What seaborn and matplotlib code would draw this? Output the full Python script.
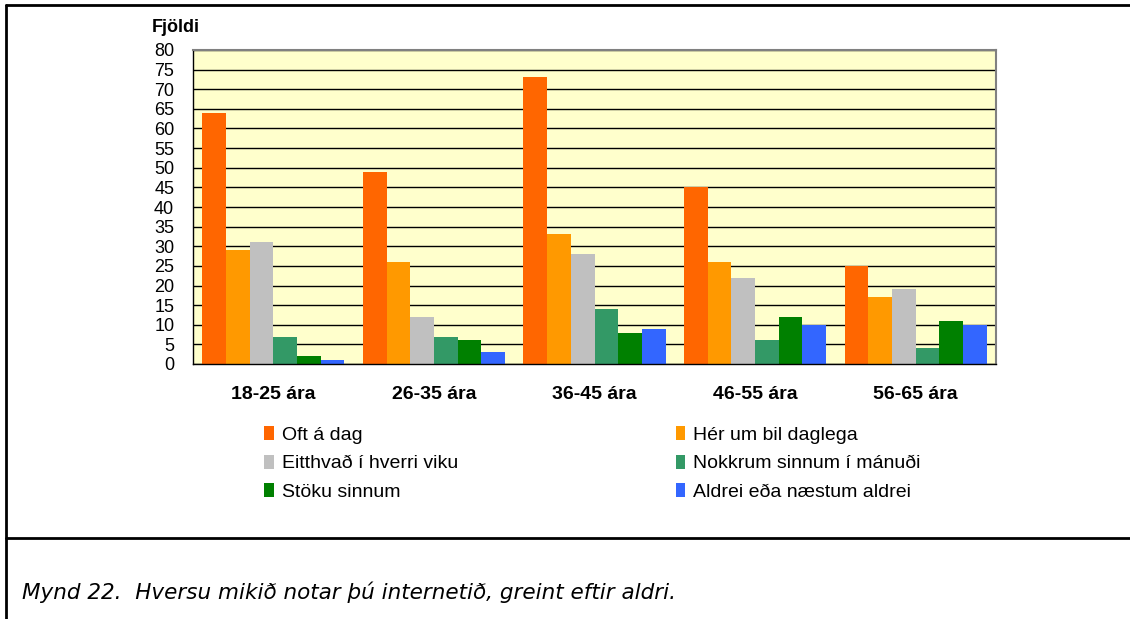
import matplotlib
matplotlib.use("Agg")
import matplotlib.pyplot as plt
import seaborn as sns
import pandas as pd
import numpy as np
from matplotlib.lines import Line2D
from matplotlib.patches import Patch

categories = ["18-25 ára", "26-35 ára", "36-45 ára", "46-55 ára", "56-65 ára"]
series_names = ["Oft á dag", "Hér um bil daglega", "Eitthvað í hverri viku",
                "Nokkrum sinnum í mánuði", "Stöku sinnum", "Aldrei eða næstum aldrei"]
oft_a_dag = [64, 49, 73, 45, 25]
her_um_bil = [29, 26, 33, 26, 17]
eitthvad = [31, 12, 28, 22, 19]
nokkrum = [7, 7, 14, 6, 4]
stoku = [2, 6, 8, 12, 11]
aldrei = [1, 3, 9, 10, 10]
colors = ["#FF6600", "#FF9900", "#C0C0C0", "#339966", "#008000", "#3366FF"]
y_ticks = list(range(0, 81, 5))

values = [oft_a_dag, her_um_bil, eitthvad, nokkrum, stoku, aldrei]
rows = []
for s, vals in zip(series_names, values):
    for c, v in zip(categories, vals):
        rows.append({"Aldur": c, "Svar": s, "Fjöldi": v})
df = pd.DataFrame(rows)

sns.set_style("white")
plt.rcParams["font.family"] = ["Liberation Sans", "DejaVu Sans"]
plt.rcParams["text.color"] = "black"
plt.rcParams["xtick.color"] = "black"
plt.rcParams["ytick.color"] = "black"
plt.rcParams["axes.labelcolor"] = "black"

fig = plt.figure(figsize=(11.30, 6.19), dpi=100)
ax = fig.add_axes([193/1130, 1-364/619, (996-193)/1130, (364-50)/619])
ax.set_facecolor("#FFFFCC")

sns.barplot(data=df, x="Aldur", y="Fjöldi", hue="Svar", order=categories,
            hue_order=series_names, palette=colors, width=0.885, gap=0,
            saturation=1, linewidth=0, ax=ax, legend=False)

ax.set_ylim(0, 80)
ax.set_xlim(-0.5, len(categories) - 0.5)
ax.set_yticks(y_ticks)
ax.set_yticklabels([str(t) for t in y_ticks], fontsize=13)
ax.yaxis.grid(True, color="black", linewidth=1)
ax.set_axisbelow(True)
ax.set_xlabel("")
ax.set_ylabel("")
ax.set_xticks(range(len(categories)))
ax.set_xticklabels(categories, fontsize=14, fontweight="bold")
ax.tick_params(axis="x", which="major", length=0, pad=16)
ax.set_xticks(np.arange(-0.5, len(categories), 1), minor=True)
ax.tick_params(axis="x", which="minor", length=5, width=1, direction="out", color="black")
ax.tick_params(axis="y", length=5.5, width=1, direction="out", color="black", pad=8)
for side in ["left", "bottom"]:
    ax.spines[side].set_color("black")
    ax.spines[side].set_linewidth(1)
for side in ["top", "right"]:
    ax.spines[side].set_visible(True)
    ax.spines[side].set_color("#808080")
    ax.spines[side].set_linewidth(1.5)

fig.text(152/1130, 1-27/619, "Fjöldi", fontsize=13, fontweight="bold", va="center", ha="left")

# legend
order = [0, 2, 4, 1, 3, 5]
handles = [Patch(facecolor=colors[i], edgecolor="none") for i in order]
labels = [series_names[i] for i in order]
fig.legend(handles, labels, ncol=2, loc="upper left",
           bbox_to_anchor=(264/1130, 1-426/619), frameon=False, fontsize=14,
           handlelength=0.5, handleheight=0.75, handletextpad=0.4,
           columnspacing=11.2, labelspacing=0.55, borderaxespad=0, borderpad=0)

# frame lines
fig.add_artist(Line2D([6/1130, 1], [1-5/619, 1-5/619], color="black", lw=2, transform=fig.transFigure))
fig.add_artist(Line2D([6/1130, 6/1130], [0, 1-5/619], color="black", lw=2, transform=fig.transFigure))
fig.add_artist(Line2D([6/1130, 1], [1-538/619, 1-538/619], color="black", lw=2, transform=fig.transFigure))

fig.text(22/1130, 1-592/619, "Mynd 22.  Hversu mikið notar þú internetið, greint eftir aldri.",
         fontsize=15.5, fontstyle="italic", family="DejaVu Sans", va="center", ha="left")

fig.savefig("out.png", dpi=100)
